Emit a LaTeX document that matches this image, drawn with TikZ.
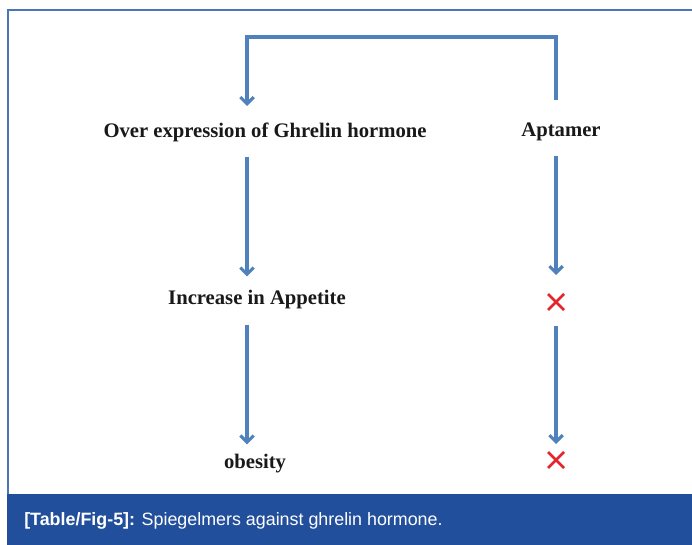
\documentclass[tikz,border=0pt]{standalone}
\usepackage{fontspec}
\setmainfont{Liberation Serif}
\newfontfamily\capfont{Liberation Sans}
\usetikzlibrary{arrows.meta,shapes.misc,calc}
\definecolor{arrowblue}{HTML}{4F81BD}
\definecolor{bandblue}{HTML}{224F9C}
\definecolor{frameblue}{HTML}{4A76B8}
\definecolor{crossred}{HTML}{E5252D}
\begin{document}
\begin{tikzpicture}[x=0.75pt,y=-0.75pt,
 lbl/.style={font=\bfseries\fontsize{15.5}{18}\selectfont, inner sep=0pt, text=black!90},
 conn/.style={draw=arrowblue, line width=2.3pt},
 arr/.style={conn, -{Straight Barb[length=5pt,width=10pt,line width=2.3pt]}},
 xmark/.style={cross out, draw=crossred, line width=2pt, minimum size=10pt, inner sep=0pt}]
\useasboundingbox (0,0) rectangle (692,545);
\fill[white] (0,0) rectangle (692,545);
\draw[frameblue, line width=0.9pt] (692,10) -- (8,10) -- (8,494);
\fill[bandblue] (7,494) rectangle (692,545);
\node[anchor=west, text=white, inner sep=0pt, font=\capfont\fontsize{13.4}{15}\selectfont] (cap) at (24,521) {\textbf{[Table/Fig-5]:} Spiegelmers against ghrelin hormone.};
% labels
\node[lbl] (over) at (265,132) {Over expression of Ghrelin hormone};
\node[lbl] (apt) at (561,132) {Aptamer};
\node[lbl] (inc) at (257,300) {Increase in Appetite};
\node[xmark] (x1) at (556,302) {};
\node[lbl] (obe) at (255,464) {obesity};
\node[xmark] (x2) at (556,460) {};
% column coordinates
\coordinate (aptTop) at (556,100);
\coordinate (overTop) at (247,106);
% top loop
\draw[arr] (aptTop) |- (247,37) -- (overTop);
% left column
\draw[arr] ($(over.south -| overTop)+(0,15)$) -- ($(inc.north -| overTop)+(0,-14)$);
\draw[arr] ($(inc.south -| overTop)+(0,15)$) -- ($(obe.north -| overTop)+(0,-10)$);
% right column
\draw[arr] ($(apt.south -| x1)+(0,15)$) -- ($(x1.north)+(0,-19)$);
\draw[arr] ($(x1.south)+(0,16)$) -- ($(x2.north)+(0,-8)$);
\end{tikzpicture}
\end{document}
